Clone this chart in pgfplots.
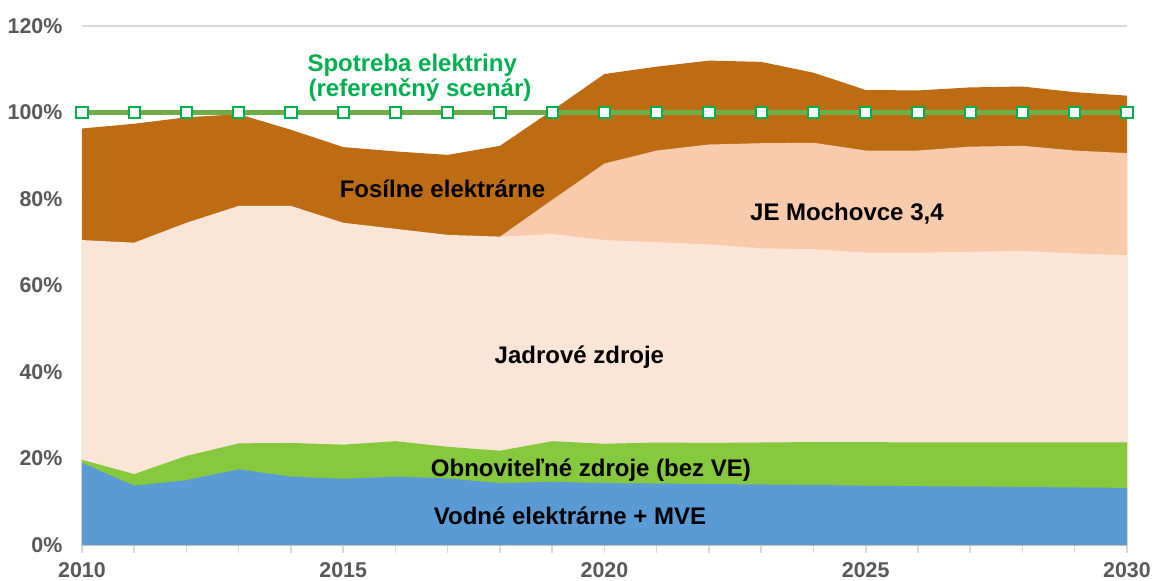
\documentclass[border=0pt]{standalone}
\usepackage{pgfplots}
\pgfplotsset{compat=1.18}
\usepackage{pgfplotstable}
\usepackage{fontspec}
\setmainfont{Liberation Sans}
\definecolor{cBlue}{HTML}{5B9BD5}
\definecolor{cGreen}{HTML}{86C83E}
\definecolor{cNuc}{HTML}{FBE5D6}
\definecolor{cMoch}{HTML}{F8CBAD}
\definecolor{cFos}{HTML}{BE6C14}
\definecolor{lineGreen}{HTML}{70AD47}
\definecolor{markGreen}{HTML}{00B050}
\definecolor{tickgray}{HTML}{595959}
\definecolor{axgray}{HTML}{D9D9D9}

\pgfplotstableread{
year blue green nuc fos sp
2010 19.0 19.7 70.5 96.3 100
2011 13.7 16.4 69.9 97.4 100
2012 15.0 20.6 74.5 98.9 100
2013 17.5 23.5 78.4 99.6 100
2014 15.8 23.6 78.4 96.0 100
2015 15.3 23.2 74.5 92.0 100
2016 15.8 24.0 73.1 91.0 100
2017 15.4 22.7 71.7 90.2 100
2018 14.3 21.8 71.3 92.3 100
2019 14.6 24.0 71.9 100.5 100
2020 14.3 23.4 70.5 108.9 100
2021 14.2 23.7 70.0 110.6 100
2022 14.1 23.6 69.5 112.0 100
2023 14.0 23.7 68.6 111.7 100
2024 13.9 23.8 68.4 109.2 100
2025 13.7 23.8 67.6 105.2 100
2026 13.6 23.7 67.6 105.1 100
2027 13.5 23.7 67.8 105.8 100
2028 13.4 23.7 68.0 106.0 100
2029 13.3 23.7 67.4 104.7 100
2030 13.2 23.7 67.0 103.9 100
}\data

\pgfplotstableread{
year moch
2018 71.3
2019 79.8
2020 88.2
2021 91.2
2022 92.6
2023 92.9
2024 93.0
2025 91.2
2026 91.2
2027 92.1
2028 92.3
2029 91.2
2030 90.6
}\moch

\begin{document}
\begin{tikzpicture}
\begin{axis}[
  scale only axis, width=522.5bp, height=259.5bp,
  xmin=2010, xmax=2030, ymin=0, ymax=120,
  clip=false,
  axis x line*=bottom, axis y line*=left,
  y axis line style={draw=none},
  x axis line style={draw=axgray, line width=0.75bp, -},
  ytick={0,20,...,120},
  yticklabel={\pgfmathprintnumber{\tick}\%},
  xtick={2010,2015,...,2030},
  minor xtick={2010,...,2030},
  x tick label style={/pgf/number format/1000 sep={}, yshift=-1.5bp},
  y tick label style={xshift=-2.5bp},
  /pgf/number format/assume math mode=true,
  ticklabel style={font=\fontsize{10.7bp}{12bp}\selectfont\bfseries, text=tickgray},
  tick align=outside,
  major tick length=3.8bp, minor tick length=3.8bp,
  xtick style={draw=axgray, line width=0.75bp},
  ytick style={draw=none},
  ymajorgrids, grid style={draw=axgray, line width=0.75bp},
]
\addplot[fill=cFos, draw=none] table[x=year,y=fos]{\data} \closedcycle;
\addplot[fill=cMoch, draw=none] table[x=year,y=moch]{\moch} \closedcycle;
\addplot[fill=cNuc, draw=none] table[x=year,y=nuc]{\data} \closedcycle;
\addplot[fill=cGreen, draw=none] table[x=year,y=green]{\data} \closedcycle;
\addplot[fill=cBlue, draw=none] table[x=year,y=blue]{\data} \closedcycle;
\addplot[color=lineGreen, line width=2.5bp, mark=square*, mark size=2.8bp,
  mark options={fill=white, draw=markGreen, line width=1bp}] table[x=year,y=sp]{\data};

\begin{scope}[font=\fontsize{12bp}{14bp}\selectfont\bfseries]
\node[anchor=base, text=markGreen] at (axis cs:2016.32,109.5) {Spotreba elektriny};
\node[anchor=base, text=markGreen] at (axis cs:2016.47,103.7) {(referenčný scenár)};
\node[anchor=base] at (axis cs:2016.9,80.4) {Fosílne elektrárne};
\node[anchor=base] at (axis cs:2024.64,75.0) {JE Mochovce 3,4};
\node[anchor=base] at (axis cs:2019.52,42.0) {Jadrové zdroje};
\node[anchor=base] at (axis cs:2019.74,15.8) {Obnoviteľné zdroje (bez VE)};
\node[anchor=base] at (axis cs:2019.34,4.8) {Vodné elektrárne + MVE};
\end{scope}
\end{axis}
\pgfresetboundingbox
\path[use as bounding box] (-41bp,-18bp) rectangle (536bp,272.5bp);
\end{tikzpicture}
\end{document}
